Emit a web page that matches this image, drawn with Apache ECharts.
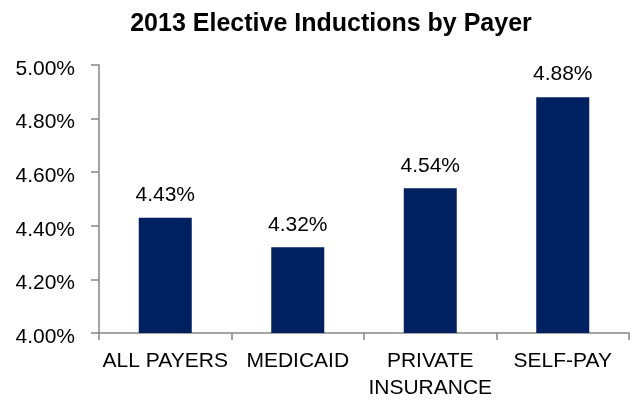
<!DOCTYPE html>
<html>
<head>
<meta charset="utf-8">
<script src="https://cdn.jsdelivr.net/npm/echarts@6/dist/echarts.min.js"></script>
<style>
  html, body { margin: 0; padding: 0; background: #ffffff; }
  #chart { width: 634px; height: 402px; }
</style>
</head>
<body>
<div id="chart"></div>
<script>
// Elective induction rates (percent) per payer group, 2013
const categories = ['ALL PAYERS', 'MEDICAID', 'PRIVATE\nINSURANCE', 'SELF-PAY'];
const rates = [4.43, 4.32, 4.54, 4.88];
const yMin = 4.0;
const yMax = 5.0;
const yStep = 0.2;

const sans = '"Liberation Sans", Arial, sans-serif';
const axisGray = '#868686';
// tightened lettering for the axis and value labels
const tight = -1.5;

const chart = echarts.init(document.getElementById('chart'));
chart.setOption({
  animation: false,
  title: {
    text: '2013 Elective Inductions by Payer',
    left: 326,
    textAlign: 'center',
    top: 7,
    textStyle: {
      fontFamily: sans,
      fontWeight: 'bold',
      fontSize: 25,
      color: '#000000'
    }
  },
  grid: { left: 99, right: 5, top: 65, bottom: 67 },
  xAxis: {
    type: 'category',
    data: categories,
    axisLine: { lineStyle: { color: axisGray, width: 1.5 } },
    axisTick: { show: true, alignWithLabel: false, length: 7, lineStyle: { color: axisGray, width: 1.5 } },
    axisLabel: {
      interval: 0,
      margin: 15,
      fontFamily: sans,
      fontSize: 21,
      letterSpacing: tight,
      lineHeight: 27,
      color: '#000000'
    }
  },
  yAxis: {
    type: 'value',
    min: yMin,
    max: yMax,
    interval: yStep,
    splitLine: { show: false },
    axisLine: { show: true, lineStyle: { color: axisGray, width: 1.5 } },
    axisTick: { show: true, length: 8, lineStyle: { color: axisGray, width: 1.5 } },
    axisLabel: {
      margin: 24,
      fontFamily: sans,
      fontSize: 21,
      letterSpacing: tight,
      color: '#000000',
      formatter: v => '{v|' + v.toFixed(2) + '%}',
      rich: {
        v: {
          fontFamily: sans,
          fontSize: 21,
          letterSpacing: tight,
          color: '#000000',
          padding: [8, 0, 0, 0]
        }
      }
    }
  },
  series: [{
    type: 'bar',
    data: rates,
    barWidth: '40%',
    itemStyle: { color: '#002060' },
    label: {
      show: true,
      position: 'top',
      distance: 12,
      fontFamily: sans,
      fontSize: 21,
      letterSpacing: tight,
      color: '#000000',
      formatter: p => p.value.toFixed(2) + '%'
    }
  }]
});
</script>
</body>
</html>
